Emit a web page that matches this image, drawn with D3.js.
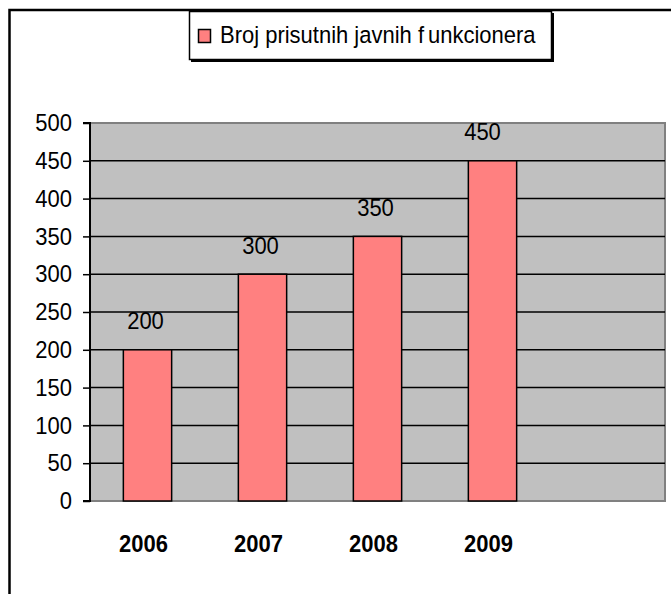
<!DOCTYPE html>
<html lang="en">
<head>
    <meta charset="UTF-8">
    <title>Broj prisutnih javnih funkcionera</title>
    <script src="https://cdn.jsdelivr.net/npm/d3@7"></script>
    <style>
        body { margin: 0; background: #fff; }
        text {
            font-family: "Liberation Sans", Arial, sans-serif;
            fill: #000;
            transform-box: fill-box;
            transform-origin: center;
            transform: scaleY(1.08);
        }
        .grid line { stroke: #000; stroke-width: 1.5px; }
        .bar { fill: #ff8080; stroke: #000; stroke-width: 1.5px; }
    </style>
</head>
<body>
    <div id="chart"></div>
    <script>
        // data
        const years = ["2006", "2007", "2008", "2009"];
        const values = [200, 300, 350, 450];
        const yTicks = [0, 50, 100, 150, 200, 250, 300, 350, 400, 450, 500];
        const seriesName = "Broj prisutnih javnih funkcionera";

        const W = 671, H = 594;
        const plot = { left: 90, top: 123, right: 665, bottom: 501 };

        const svg = d3.select("#chart").append("svg")
            .attr("width", W)
            .attr("height", H);

        // outer frame (cut off at right / bottom)
        svg.append("rect")
            .attr("x", 9.5).attr("y", 10)
            .attr("width", W + 20).attr("height", H + 20)
            .attr("fill", "#fff")
            .attr("stroke", "#000")
            .attr("stroke-width", 2.5);

        // scales - one empty slot after the last year
        const x = d3.scaleBand()
            .domain(years.concat([" "]))
            .range([plot.left, plot.right])
            .padding(0);
        const y = d3.scaleLinear()
            .domain([0, 500])
            .range([plot.bottom, plot.top]);

        // plot background
        svg.append("rect")
            .attr("x", plot.left).attr("y", plot.top)
            .attr("width", plot.right - plot.left)
            .attr("height", plot.bottom - plot.top)
            .attr("fill", "#c0c0c0")
            .attr("stroke", "#808080")
            .attr("stroke-width", 2);

        // gridlines
        svg.append("g").attr("class", "grid")
            .selectAll("line")
            .data(yTicks.filter(d => d > 0 && d < 500))
            .join("line")
            .attr("x1", plot.left).attr("x2", plot.right)
            .attr("y1", d => y(d)).attr("y2", d => y(d));

        // y axis
        const yAxis = svg.append("g")
            .attr("transform", "translate(" + plot.left + ",0)")
            .call(d3.axisLeft(y).tickValues(yTicks).tickSize(7).tickPadding(11).tickFormat(d3.format("d")));
        yAxis.select(".domain").attr("stroke", "#000").attr("stroke-width", 2)
            .attr("d", "M-7," + y(500) + "H0V" + y(0) + "H-7");
        yAxis.selectAll(".tick line").attr("stroke", "#000").attr("stroke-width", 1.5);
        yAxis.selectAll(".tick text")
            .style("font-size", "22px")
            .style("font-family", "Liberation Sans, Arial, sans-serif")
            .attr("fill", "#000");

        // bars
        const barW = x.bandwidth() * 0.42;
        svg.selectAll(".bar")
            .data(values)
            .join("rect")
            .attr("class", "bar")
            .attr("x", (d, i) => x(years[i]) + (x.bandwidth() - barW) / 2)
            .attr("y", d => y(d))
            .attr("width", barW)
            .attr("height", d => y(0) - y(d));

        // value labels
        svg.selectAll(".val")
            .data(values)
            .join("text")
            .attr("class", "val")
            .attr("x", (d, i) => x(years[i]) + x.bandwidth() / 2 - (i === 3 ? 10 : 2))
            .attr("y", d => y(d) - 21)
            .attr("text-anchor", "middle")
            .style("font-size", "22px")
            .text(d => d);

        // category labels
        svg.selectAll(".cat")
            .data(years)
            .join("text")
            .attr("class", "cat")
            .attr("x", d => x(d) + x.bandwidth() / 2 - 4)
            .attr("y", 551)
            .attr("text-anchor", "middle")
            .style("font-size", "22px")
            .style("font-weight", "bold")
            .text(d => d);

        // legend
        const lg = svg.append("g");
        lg.append("rect")
            .attr("x", 191).attr("y", 13)
            .attr("width", 363).attr("height", 49)
            .attr("fill", "#000");
        lg.append("rect")
            .attr("x", 189.5).attr("y", 11.5)
            .attr("width", 362).attr("height", 48)
            .attr("fill", "#fff")
            .attr("stroke", "#000")
            .attr("stroke-width", 1.5);
        lg.append("rect")
            .attr("x", 198.5).attr("y", 29.5)
            .attr("width", 12).attr("height", 13)
            .attr("fill", "#ff8080")
            .attr("stroke", "#000")
            .attr("stroke-width", 1.5);
        // the original spaces the "f" a little away from "unkcionera"
        const words = seriesName.split(" f");
        const lt = lg.append("text")
            .attr("x", 220).attr("y", 42)
            .style("font-size", "22px");
        lt.append("tspan").text(words[0] + " f");
        lt.append("tspan").attr("dx", 4).text(words[1]);
    </script>
</body>
</html>
